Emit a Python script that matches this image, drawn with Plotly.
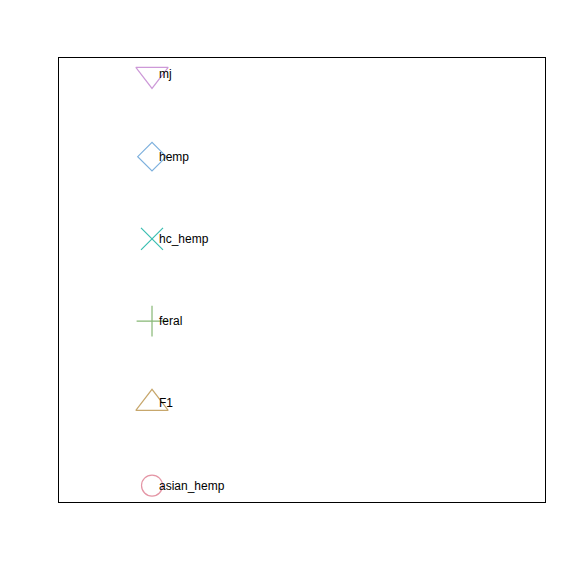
import plotly.graph_objects as go

categories = ["asian_hemp", "F1", "feral", "hc_hemp", "hemp", "mj"]
y_values = [1, 2, 3, 4, 5, 6]
x_values = [1, 1, 1, 1, 1, 1]
colors = ["#E495A5", "#C7A76C", "#86B875", "#39BEB1", "#7DB0DD", "#CD99D8"]
symbols = ["circle-open", "triangle-up-open", "cross-thin-open", "x-thin-open",
           "diamond-open", "triangle-down-open"]
sizes = [21, 28, 22, 22, 22, 28]

fig = go.Figure()
for cat, x, y, c, s, sz in zip(categories, x_values, y_values, colors, symbols, sizes):
    fig.add_trace(go.Scatter(
        x=[x], y=[y], mode="markers", name=cat,
        marker=dict(symbol=s, size=sz, color=c, line=dict(color=c, width=1.2)),
        showlegend=False, hoverinfo="skip"))

annotations = [dict(x=x, y=y, text=cat, xref="x", yref="y", showarrow=False,
                    xanchor="left", yanchor="middle", xshift=5,
                    font=dict(family="Liberation Sans, Arial", size=12, color="black"))
               for cat, x, y in zip(categories, x_values, y_values)]

fig.update_layout(
    width=576, height=576,
    margin=dict(l=59, r=31, t=58, b=74),
    paper_bgcolor="white", plot_bgcolor="white",
    annotations=annotations,
    xaxis=dict(range=[0, 5.225], showgrid=False, zeroline=False, showticklabels=False,
               ticks="", showline=True, mirror=True, linecolor="black", linewidth=1),
    yaxis=dict(range=[0.8, 6.2], showgrid=False, zeroline=False, showticklabels=False,
               ticks="", showline=True, mirror=True, linecolor="black", linewidth=1),
)

fig.write_html("out.html")
